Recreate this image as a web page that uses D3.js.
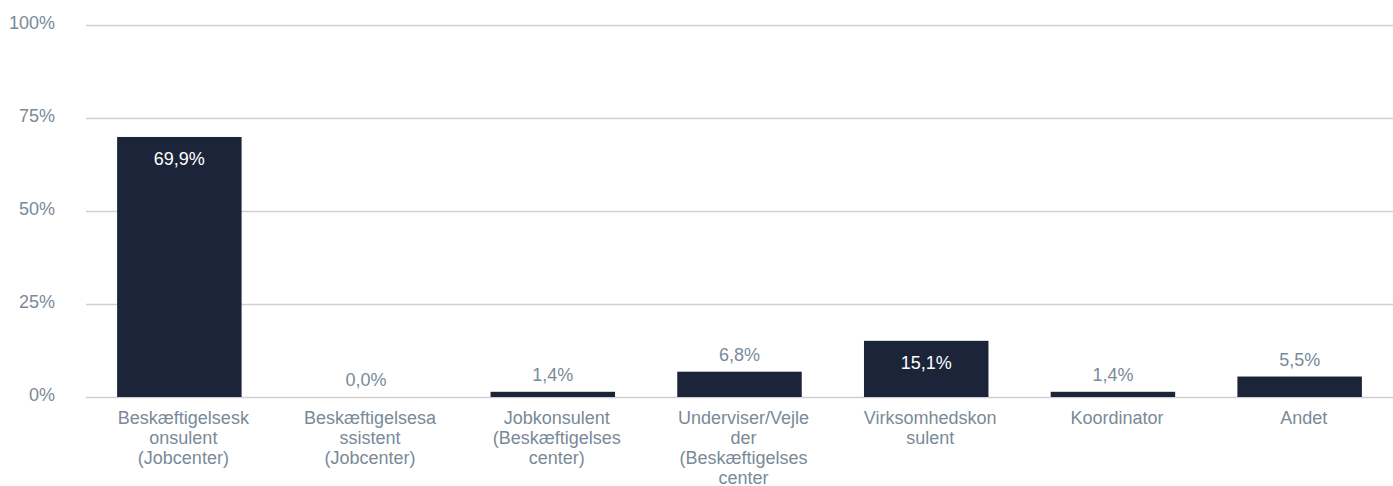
<!DOCTYPE html>
<html>
<head>
<meta charset="utf-8">
<script src="https://cdn.jsdelivr.net/npm/d3@7"></script>
<style>
  body { margin: 0; background: #fff; }
  text { font-family: "Liberation Sans", Arial, sans-serif; }
</style>
</head>
<body>
<script>
const w = 1393;
const h = 486;

const categories = ["Beskæftigelseskonsulent (Jobcenter)", "Beskæftigelsesassistent (Jobcenter)",
  "Jobkonsulent (Beskæftigelsescenter)", "Underviser/Vejleder (Beskæftigelsescenter",
  "Virksomhedskonsulent", "Koordinator", "Andet"];
const values = [69.9, 0.0, 1.4, 6.8, 15.1, 1.4, 5.5];
const tickLabels = [
  ["Beskæftigelsesk", "onsulent", "(Jobcenter)"],
  ["Beskæftigelsesa", "ssistent", "(Jobcenter)"],
  ["Jobkonsulent", "(Beskæftigelses", "center)"],
  ["Underviser/Vejle", "der", "(Beskæftigelses", "center"],
  ["Virksomhedskon", "sulent"],
  ["Koordinator"],
  ["Andet"]
];
const yTicks = [0, 25, 50, 75, 100];

const barColor = "#1b2438";
const textColor = "#7a8a98";

const svg = d3.select("body")
  .append("svg")
  .attr("width", w)
  .attr("height", h);

const xScale = d3.scaleBand()
  .domain(categories)
  .range([86, w])
  .paddingInner(1 / 3)
  .paddingOuter(1 / 6);

const yScale = d3.scaleLinear()
  .domain([0, 100])
  .range([397, 25]);

// grid lines + y labels
const yAxis = d3.axisLeft(yScale)
  .tickValues(yTicks)
  .tickSize(-(w - 86))
  .tickPadding(31)
  .tickFormat((d) => d + "%");

const gy = svg.append("g")
  .attr("transform", "translate(86,0)")
  .call(yAxis);
gy.select(".domain").remove();
gy.selectAll(".tick line")
  .attr("stroke", "#d0d0d0")
  .attr("stroke-width", 1.5);
gy.selectAll(".tick text")
  .attr("fill", textColor)
  .attr("font-size", "18px")
  .attr("dy", "0.17em");

// bars
svg.selectAll("rect.bar")
  .data(values)
  .enter()
  .append("rect")
  .attr("class", "bar")
  .attr("x", (d, i) => xScale(categories[i]))
  .attr("width", xScale.bandwidth())
  .attr("y", (d) => yScale(d))
  .attr("height", (d) => yScale(0) - yScale(d))
  .attr("fill", barColor);

// value labels
svg.selectAll("text.val")
  .data(values)
  .enter()
  .append("text")
  .attr("class", "val")
  .attr("x", (d, i) => xScale(categories[i]) + xScale.bandwidth() / 2)
  .attr("y", (d) => d > 10 ? yScale(d) + 28 : yScale(d) - 11)
  .attr("text-anchor", "middle")
  .attr("font-size", "18px")
  .attr("fill", (d) => d > 10 ? "#ffffff" : textColor)
  .text((d) => d.toFixed(1).replace(".", ",") + "%");

// category labels
const xAxis = d3.axisBottom(xScale).tickSize(0).tickFormat("");
const gx = svg.append("g")
  .attr("transform", "translate(0,397)")
  .call(xAxis);
gx.select(".domain").remove();

gx.selectAll(".tick")
  .each(function (d, i) {
    const t = d3.select(this).append("text")
      .attr("x", 4)
      .attr("y", 27)
      .attr("text-anchor", "middle")
      .attr("font-size", "18px")
      .attr("fill", textColor);
    tickLabels[i].forEach((line, j) => {
      t.append("tspan")
        .attr("x", 4)
        .attr("dy", j === 0 ? 0 : 20)
        .text(line);
    });
  });
</script>
</body>
</html>
